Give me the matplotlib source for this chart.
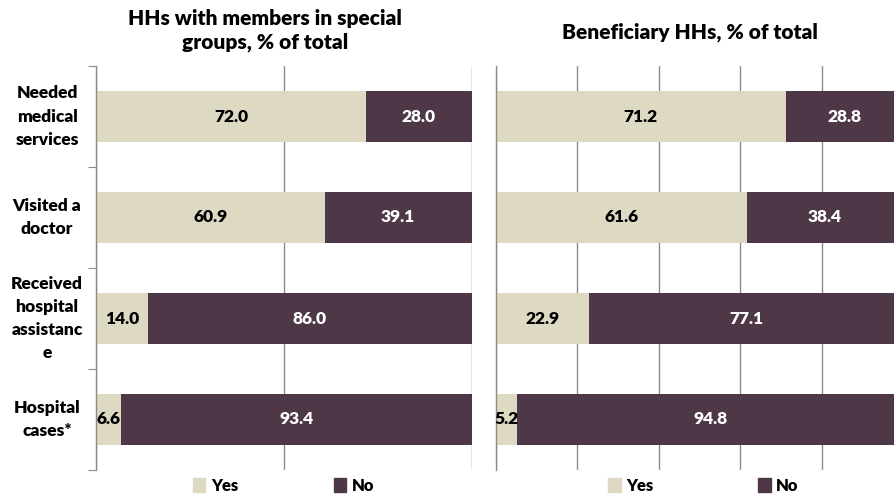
import matplotlib
matplotlib.use("Agg")
import matplotlib.pyplot as plt
from matplotlib.transforms import blended_transform_factory
from matplotlib.patches import Patch

plt.rcParams['font.family'] = ['Lato', 'DejaVu Sans']
plt.rcParams['font.weight'] = 'heavy'
WT = 'heavy'

categories = ["Needed\nmedical\nservices", "Visited a\ndoctor",
              "Received\nhospital\nassistanc\ne", "Hospital\ncases*"]
series_names = ["Yes", "No"]
special_yes = [72.0, 60.9, 14.0, 6.6]
special_no = [28.0, 39.1, 86.0, 93.4]
benef_yes = [71.2, 61.6, 22.9, 5.2]
benef_no = [28.8, 38.4, 77.1, 94.8]
left_title = "HHs with members in special\ngroups, % of total"
right_title = "Beneficiary HHs, % of total"

YES_C = "#DDD9C3"
NO_C = "#4E3848"
GRID_C = "#8C8C8C"

W, H = 895, 496
fig = plt.figure(figsize=(W / 100, H / 100), dpi=100)
fig.patch.set_facecolor("white")

def frac(x0, y0, x1, y1):
    return [x0 / W, 1 - y1 / H, (x1 - x0) / W, (y1 - y0) / H]

axL = fig.add_axes(frac(95.7, 66, 471.7, 470))
axR = fig.add_axes(frac(496, 66, 903, 470))

ypos = list(range(len(categories)))


def draw(ax, yes, no, step, colspace):
    ax.barh(ypos, yes, height=0.5, color=YES_C, zorder=2)
    ax.barh(ypos, no, left=yes, height=0.5, color=NO_C, zorder=2)
    for y, a, b in zip(ypos, yes, no):
        ax.text(a / 2, y, f"{a:.1f}", ha="center", va="center",
                fontsize=12.5, fontweight=WT, color="black", zorder=3)
        ax.text(a + b / 2, y, f"{b:.1f}", ha="center", va="center",
                fontsize=12.5, fontweight=WT, color="white", zorder=3)
    ax.set_xlim(0, 100)
    ax.set_ylim(len(categories) - 0.5, -0.5)
    ax.set_xticks(list(range(0, 101, step)))
    ax.tick_params(axis="x", length=0, labelbottom=False)
    ax.grid(axis="x", color=GRID_C, linewidth=1.0, zorder=1)
    for s in ["top", "right", "bottom"]:
        ax.spines[s].set_visible(False)
    ax.spines["left"].set_color(GRID_C)
    ax.spines["left"].set_linewidth(1.0)
    ax.set_facecolor("white")
    ax.legend(handles=[Patch(color=YES_C, label=series_names[0]),
                       Patch(color=NO_C, label=series_names[1])],
              loc="upper center", ncol=2, frameon=False,
              handlelength=0.75, handleheight=0.9, handletextpad=0.35,
              columnspacing=colspace, prop={"weight": WT, "size": 12},
              borderaxespad=0)


draw(axL, special_yes, special_no, 50, 5.75)
draw(axR, benef_yes, benef_no, 20, 6.25)

axL.legend_.set_bbox_to_anchor((0.5, -0.003))
axR.legend_.set_bbox_to_anchor((0.51, -0.003))

# left axis: tick marks at category boundaries, no tick labels
axL.set_yticks([y - 0.5 for y in ypos] + [len(categories) - 0.5])
axL.tick_params(axis="y", direction="out", length=5.5, color=GRID_C,
                labelleft=False)
axR.set_yticks([])

tr = blended_transform_factory(axL.transAxes, axL.transData)
for y, lab in zip(ypos, categories):
    axL.text(-0.1295, y, lab, transform=tr, ha="center", va="center",
             multialignment="center", fontsize=12.5, fontweight=WT,
             linespacing=1.55)

fig.text(265 / W, 1 - 9 / H, left_title, ha="center", va="top",
         fontsize=15, fontweight=WT, linespacing=1.3)
fig.text(690 / W, 1 - 38 / H, right_title, ha="center", va="baseline",
         fontsize=15, fontweight=WT)

fig.savefig("out.png", dpi=100)
